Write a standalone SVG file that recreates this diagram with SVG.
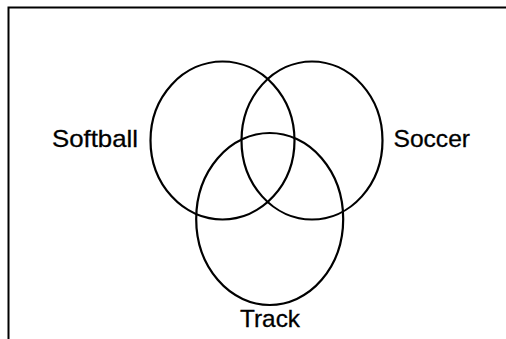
<svg xmlns="http://www.w3.org/2000/svg" width="506" height="339" viewBox="0 0 506 339">
<style>
.c{fill:none;stroke:#000;stroke-width:2.2}
.t{font-family:"Liberation Sans",Arial,sans-serif;font-size:24px;fill:#000;stroke:#000;stroke-width:0.3}
</style>
<rect width="506" height="339" fill="#fff"/>
<path d="M8.5,339 V7.5 H506" fill="none" stroke="#000" stroke-width="2"/>
<g id="softball"><ellipse class="c" cx="222.5" cy="140.5" rx="72" ry="79"/><text class="t" x="52" y="146.5" textLength="86" lengthAdjust="spacingAndGlyphs">Softball</text></g>
<g id="soccer"><ellipse class="c" cx="312" cy="140.5" rx="70.5" ry="79"/><text class="t" x="393.5" y="146.5" textLength="76.5" lengthAdjust="spacingAndGlyphs">Soccer</text></g>
<g id="track"><ellipse class="c" cx="269.7" cy="219" rx="73.5" ry="86"/><text class="t" x="240" y="326.5" textLength="60" lengthAdjust="spacingAndGlyphs">Track</text></g>
<g id="connectors"/>
</svg>
